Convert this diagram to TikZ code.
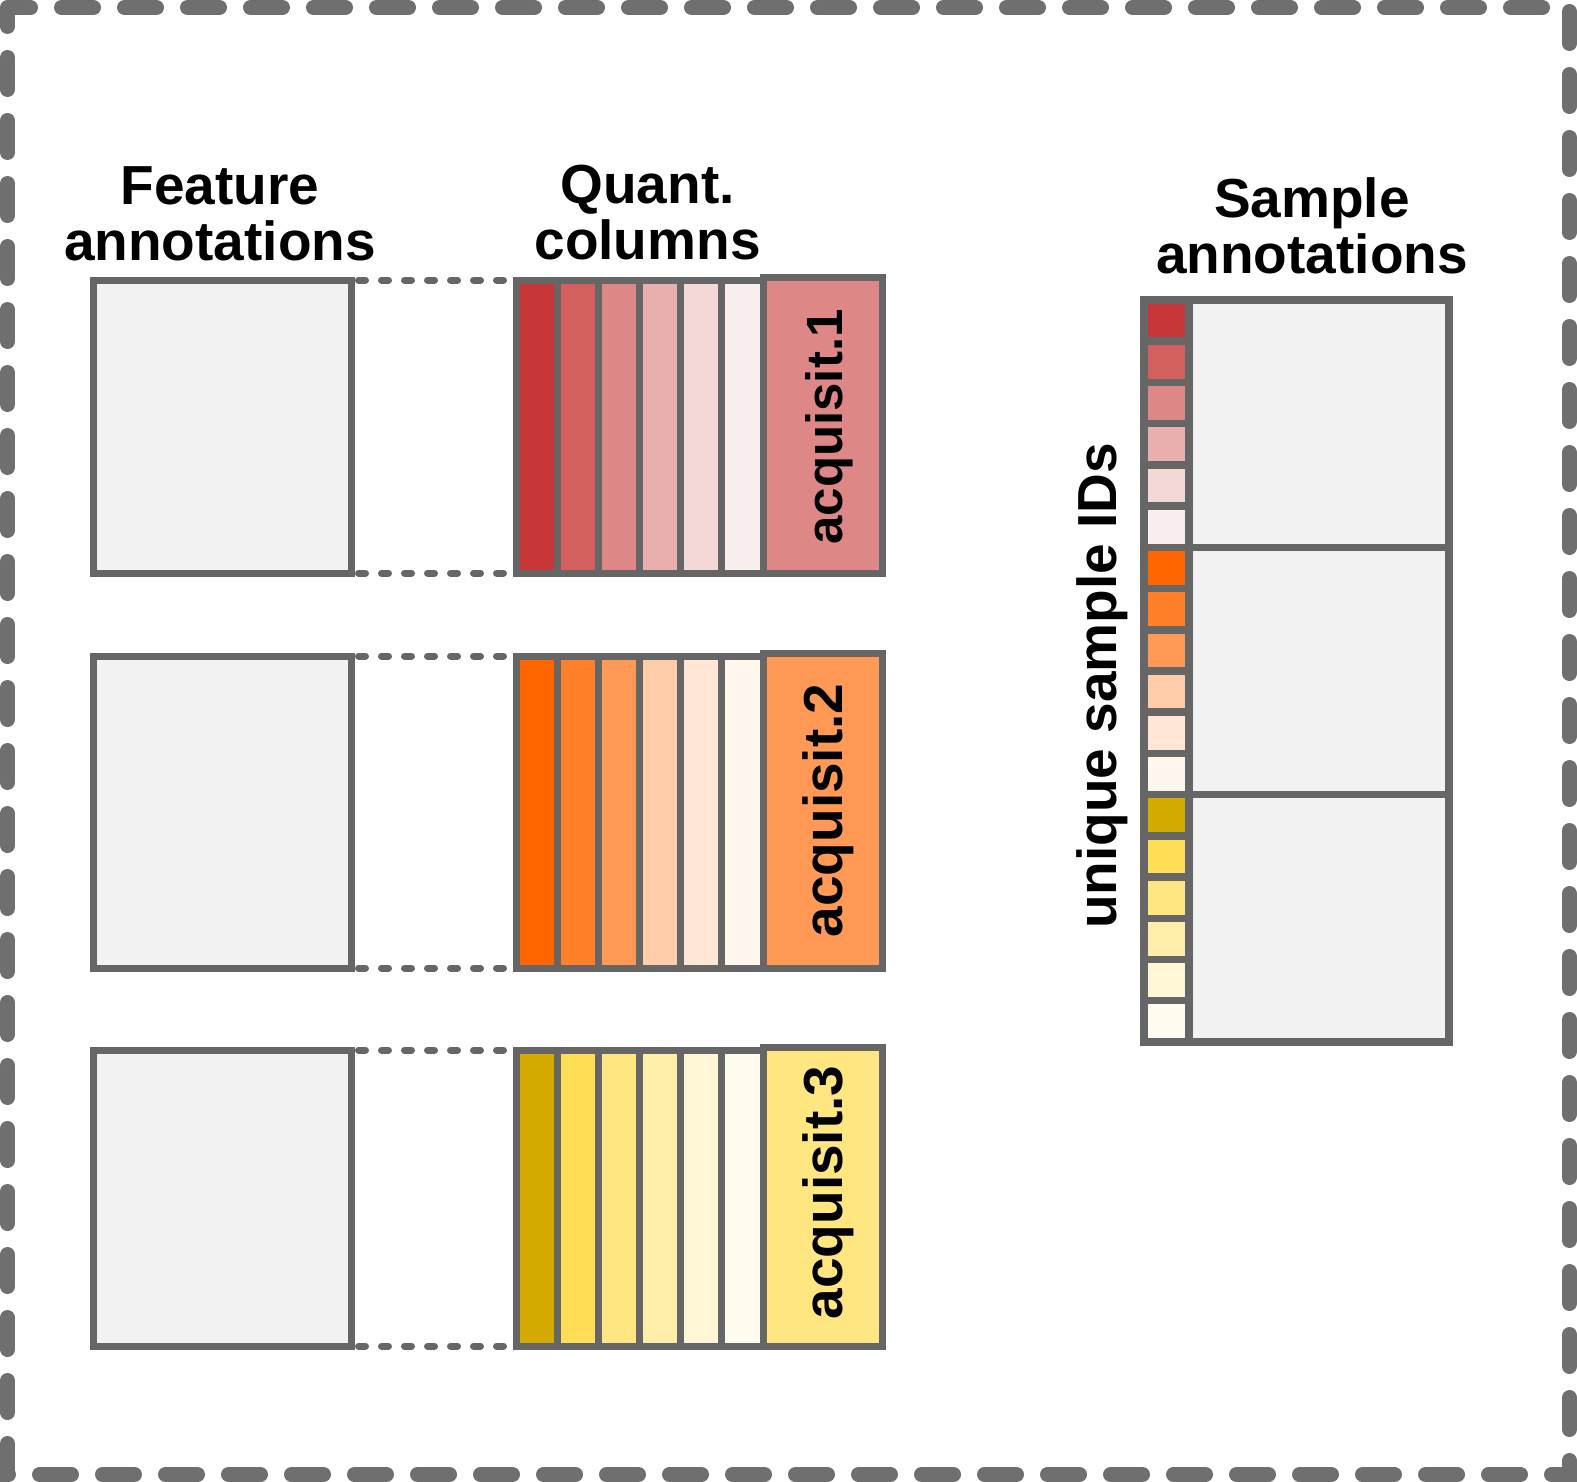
\documentclass[tikz,border=0pt]{standalone}
\usepackage{fontspec}
\setmainfont{Liberation Sans}
\definecolor{lgray}{HTML}{666666}
\definecolor{fgray}{HTML}{F2F2F2}
\definecolor{bgray}{HTML}{6F6F6F}
\definecolor{c11}{HTML}{C83737}
\definecolor{c12}{HTML}{D35F5F}
\definecolor{c13}{HTML}{DE8787}
\definecolor{c14}{HTML}{E9AFAF}
\definecolor{c15}{HTML}{F4D7D7}
\definecolor{c16}{HTML}{F9EEEE}
\definecolor{c21}{HTML}{FF6600}
\definecolor{c22}{HTML}{FF7F2A}
\definecolor{c23}{HTML}{FF9955}
\definecolor{c24}{HTML}{FFCCAA}
\definecolor{c25}{HTML}{FFE6D5}
\definecolor{c26}{HTML}{FFF6EE}
\definecolor{c31}{HTML}{D4AA00}
\definecolor{c32}{HTML}{FFDD55}
\definecolor{c33}{HTML}{FFE680}
\definecolor{c34}{HTML}{FFEEAA}
\definecolor{c35}{HTML}{FFF6D5}
\definecolor{c36}{HTML}{FFFBEE}
\begin{document}
\begin{tikzpicture}[x=1pt,y=-1pt,
  boxline/.style={draw=lgray, line width=7pt, rectangle, inner sep=0pt, outer sep=0pt, anchor=north west},
  fbox/.style={boxline, fill=fgray, minimum width=258pt},
  stripe/.style={boxline, minimum width=41.17pt},
  acqbox/.style={boxline, minimum width=119pt},
  cell/.style={boxline, line width=7.5pt, minimum width=45pt, minimum height=41.22pt},
  pbox/.style={boxline, line width=7.5pt, fill=fgray, minimum width=260pt, minimum height=247.33pt},
  dotline/.style={draw=lgray, line width=7pt, line cap=round, dash pattern=on 7pt off 16pt, dash phase=15.5pt},
  border/.style={draw=bgray, line width=15pt, line cap=round, dash pattern=on 32pt off 31pt, dash phase=9pt},
  lab/.style={font=\bfseries\fontsize{55pt}{56pt}\selectfont, inner sep=0pt},
  head/.style={lab, align=center, anchor=north}]
\useasboundingbox (0,0) rectangle (1577,1482);
% outer dashed frame
\coordinate (tl) at (7.5,7.5);
\coordinate (tr) at (1569.5,7.5);
\coordinate (br) at (1569.5,1474.5);
\coordinate (bl) at (7.5,1474.5);
\draw[border] (tl) -- (tr) -- (br) -- (bl) -- cycle;
% headings
\node[head] (hf) at (220,166.5) {Feature\\annotations};
\node[head] (hq) at (647.5,165) {Quant.\\columns};
\node[head] (hs) at (1312,177.5) {Sample\\annotations};
% three acquisition blocks
\foreach \b/\T/\B/\dy/\fs in {1/280/573/-2/51, 2/656/968/0/55, 3/1050/1346/4/55} {
  \pgfmathsetmacro\H{\B-\T}
  \pgfmathsetmacro\HA{\B-\T+3}
  \node[fbox, minimum height=\H pt] (f\b) at (93,\T) {};
  \foreach \i in {1,...,6} {
    \node[stripe, fill=c\b\i, minimum height=\H pt] (s\b\i) at ({516+(\i-1)*41.17},\T) {};
  }
  \node[acqbox, fill=c\b3, minimum height=\HA pt] (a\b) at (763,{\T-3}) {};
  \node[lab, font=\bfseries\fontsize{\fs pt}{\fs pt}\selectfont, rotate=90, anchor=base] (t\b) at ([xshift=19.5pt, yshift=\dy pt]a\b.center) {acquisit.\b};
  \draw[dotline] (f\b.north east) -- (s\b1.north west);
  \draw[dotline] (f\b.south east) -- (s\b1.south west);
}
% sample annotations
\foreach \j in {0,1,2} {
  \node[pbox] (p\j) at (1189,{300+\j*247.33}) {};
}
\foreach \k in {0,...,17} {
  \pgfmathtruncatemacro\bb{int(\k/6)+1}
  \pgfmathtruncatemacro\ii{mod(\k,6)+1}
  \node[cell, fill=c\bb\ii] (u\k) at (1144,{300+\k*41.22}) {};
}
\node[lab, rotate=90, anchor=base] (ids) at (1116,686) {unique sample IDs};
\end{tikzpicture}
\end{document}
